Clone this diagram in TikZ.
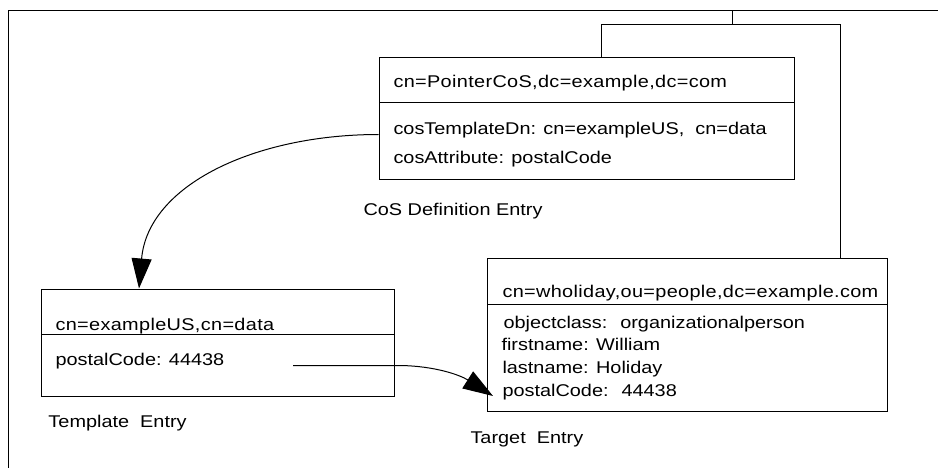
\documentclass[tikz,border=0pt]{standalone}
\usepackage{fontspec}
\setmainfont{Liberation Sans}[FakeStretch=1.17]
\newfontfamily\dnfont{Liberation Sans}[FakeStretch=1.17,LetterSpace=2]
\usetikzlibrary{arrows.meta}
\begin{document}
\begin{tikzpicture}[x=1pt,y=-1pt,
  line width=1pt,
  compart/.style={draw,rectangle,inner sep=0pt,anchor=north west},
  txt/.style={inner sep=0pt,anchor=base west,font=\fontsize{17}{20}\selectfont},
  dn/.style={inner sep=0pt,anchor=base west,font=\dnfont\fontsize{17}{20}\selectfont},
  link/.style={-{Triangle[length=30pt,width=20pt]}},
]
\useasboundingbox[fill=white] (0,0) rectangle (938,468);

% outer frame (top and left edges only)
\draw (8.5,468) -- (8.5,10.5) -- (938,10.5);

% CoS definition entry
\node[compart,minimum width=415pt,minimum height=45pt] (cosh) at (378.5,57.5) {};
\node[compart,minimum width=415pt,minimum height=77pt] (cosb) at (378.5,102.5) {};
\node[dn]  (costitle) at (393,88)  {cn=PointerCoS,dc=example,dc=com};
\node[txt] (cosdn)    at (393,135) {cosTemplateDn: cn=exampleUS,~ cn=data};
\node[txt] (cosattr)  at (393,164) {cosAttribute: postalCode};
\node[txt] (coscap)   at (363,215) {CoS Definition Entry};

% template entry
\node[compart,minimum width=353pt,minimum height=45pt] (tplh) at (40.5,288.5) {};
\node[compart,minimum width=353pt,minimum height=62pt] (tplb) at (40.5,333.5) {};
\node[dn]  (tpltitle) at (55,330) {cn=exampleUS,cn=data};
\node[txt] (tplpc)    at (55,365) {postalCode: 44438};
\node[txt] (tplcap)   at (48,427) {Template~ Entry};

% target entry
\node[compart,minimum width=400pt,minimum height=46pt]  (tgth) at (486.5,257.5) {};
\node[compart,minimum width=400pt,minimum height=107pt] (tgtb) at (486.5,303.5) {};
\node[dn]  (tgttitle) at (502,297) {cn=wholiday,ou=people,dc=example.com};
\node[txt] (tgtoc)    at (503,328) {objectclass:~ organizationalperson};
\node[txt] (tgtfn)    at (501,350) {firstname: William};
\node[txt] (tgtln)    at (502,373) {lastname: Holiday};
\node[txt] (tgtpc)    at (502,396) {postalCode:~ 44438};
\node[txt] (tgtcap)   at (470,443) {Target~ Entry};

% tree bus linking the entries to the frame
\coordinate (busL)  at (601.5,24.5);
\coordinate (busR)  at (840.5,24.5);
\coordinate (busUp) at (732.5,24.5);
\draw (cosh.north -| busL) -- (busL) -- (busR) -- (tgth.north -| busR);
\draw (busUp) -- (busUp |- 0,10.5);

% cosTemplateDn points at the template entry
\draw[link] (cosb.west |- 0,134.5) .. controls (255,134.5) and (148,185) .. (tplh.north -| 139,0);

% postalCode value flows into the target entry
\coordinate (pcFrom) at (293,365.5);
\coordinate (pcTo)   at (493,396);
\draw[link] (pcFrom) -- (400,365.5) .. controls (435,366) and (460,375) .. (pcTo);
\end{tikzpicture}
\end{document}
